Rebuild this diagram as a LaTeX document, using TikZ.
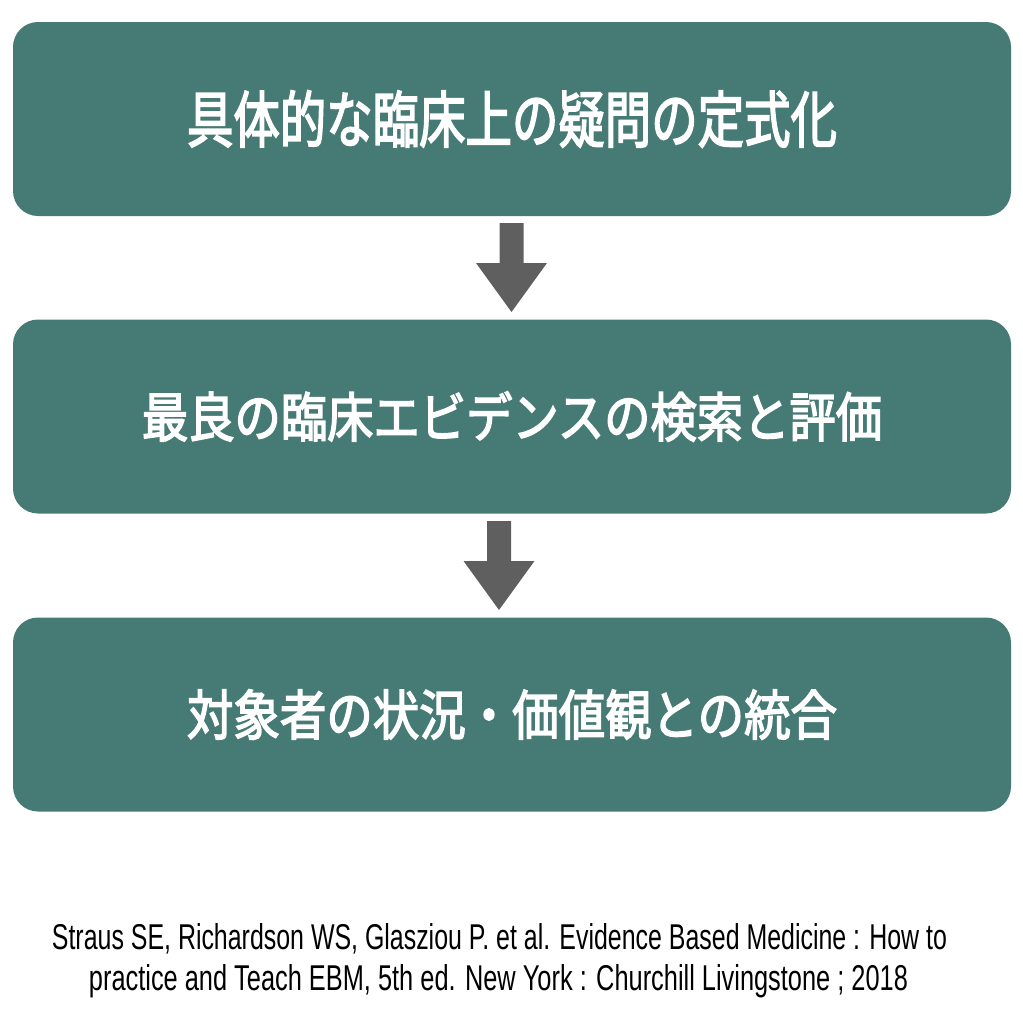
\documentclass[tikz,border=0pt]{standalone}
\usepackage{fontspec}
\usepackage{graphicx}
\newfontfamily\cjk{Noto Sans CJK JP}[FakeBold=3]
\newfontfamily\citefont{Liberation Sans}
\definecolor{boxteal}{HTML}{467A74}
\definecolor{arrowgray}{HTML}{5F5F5F}
\begin{document}
\begin{tikzpicture}[x=1pt,y=-1pt]
        % Styles
        \tikzstyle{stepbox}=[fill=boxteal,rounded corners=25pt,minimum width=998pt,minimum height=194pt,inner sep=0pt,text=white,font=\cjk]
        \tikzstyle{block arrow}=[fill=arrowgray]
        \tikzstyle{citation}=[anchor=base,inner sep=0pt,font=\citefont,text=black]
        %The graphic
        \useasboundingbox (0,0) rectangle (1023,1023);
        %steps
        \node[stepbox] (question) at (512,119) {\resizebox*{650pt}{57pt}{具体的な臨床上の疑問の定式化}};
        \node[stepbox] (evidence) at (512,416.5) {\resizebox*{740pt}{50pt}{最良の臨床エビデンスの検索と評価}};
        \node[stepbox] (values) at (512,714.5) {\resizebox*{650pt}{50pt}{対象者の状況・価値観との統合}};
        %arrows
        \foreach \cx/\ty in {511.5/223,499/521}
            \fill[style=block arrow] (\cx-12,\ty) -- (\cx+12,\ty) -- (\cx+12,\ty+40) -- (\cx+35.5,\ty+40)
                -- (\cx,\ty+89) -- (\cx-35.5,\ty+40) -- (\cx-12,\ty+40) -- cycle;
        %reference
        \node[citation] (cite1) at (499.5,949) {\resizebox{895pt}{26pt}{Straus SE, Richardson WS, Glasziou P. et al. Evidence Based Medicine : How to}};
        \node[citation] (cite2) at (498.5,990) {\resizebox{819pt}{26pt}{practice and Teach EBM, 5th ed. New York : Churchill Livingstone ; 2018}};
    \end{tikzpicture}
\end{document}
